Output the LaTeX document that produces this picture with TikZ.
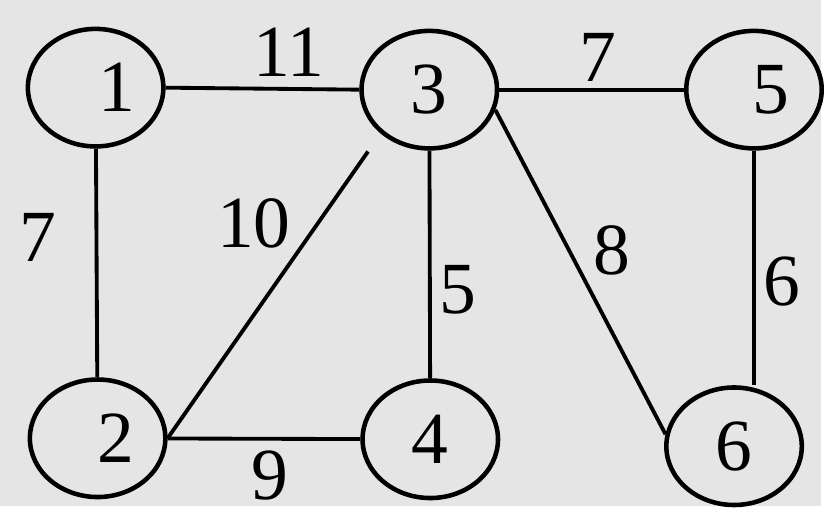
\documentclass[tikz,border=0pt]{standalone}
\usepackage{fontspec}
\setmainfont{Liberation Serif}
\usetikzlibrary{shapes.geometric}

\begin{document}
\begin{tikzpicture}[x=0.1mm,y=-0.1mm,
    vertex/.style={ellipse,draw,line width=1.3pt,minimum width=13.6mm,minimum height=11.8mm,inner sep=0pt,font=\fontsize{21}{25}\selectfont},
    weight/.style={inner sep=0pt,font=\fontsize{21}{25}\selectfont},
    link/.style={line width=1.1pt}]

% paper
\fill[gray!20] (0,0) rectangle (824,508);

% vertices
\node[vertex] (n1) at (96,88) {\hspace*{4.2mm}1};
\node[vertex] (n3) at (431,90) {3};
\node[vertex] (n5) at (757,90) {\hspace*{3.4mm}5};
\node[vertex] (n2) at (98,440) {\hspace*{3.6mm}2};
\node[vertex] (n4) at (432,441) {4};
\node[vertex] (n6) at (737,448) {6};

% edges
\draw[link] (n1.east) -- (n3.west);
\draw[link] (n3) -- (n5);
\draw[link] (n1) -- (n2);
\draw[link] (n3) -- (n4);
\draw[link,shorten >=2.2mm] (n2.east) -- (n3.222);
\draw[link] (n3.-17) -- (n6.170);
\draw[link] (n5.south) -- (n5.south |- n6.north);
\draw[link] (n2) -- (n4);

% weights
\node[weight] (w13) at (290,52) {11};
\node[weight] (w35) at (600,58) {7};
\node[weight] (w12) at (38,238) {7};
\node[weight] (w23) at (255,224) {10};
\node[weight] (w34) at (460,291) {5};
\node[weight] (w36) at (614,251) {8};
\node[weight] (w56) at (785,283) {6};
\node[weight] (w24) at (271,477) {9};

\end{tikzpicture}
\end{document}
